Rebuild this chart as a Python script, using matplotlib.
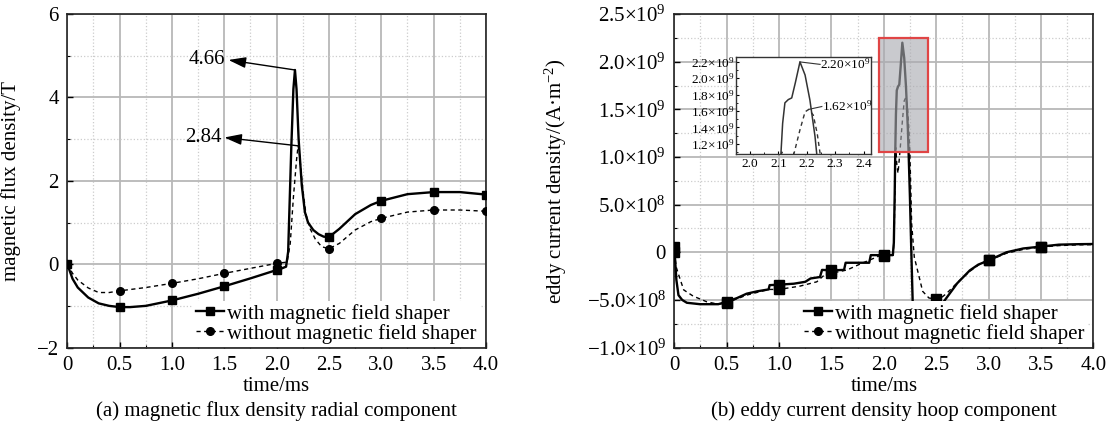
import numpy as np
import matplotlib
matplotlib.use("Agg")
import matplotlib.pyplot as plt
from matplotlib.lines import Line2D
from matplotlib.patches import Rectangle
from matplotlib.ticker import MultipleLocator, FixedLocator, FixedFormatter
from matplotlib.colors import to_rgba

plt.rcParams.update({
    "font.family": ["Liberation Serif", "DejaVu Serif"],
    "font.size": 15,
    "mathtext.fontset": "custom",
    "mathtext.rm": "Liberation Serif",
    "mathtext.it": "Liberation Serif:italic",
    "axes.linewidth": 1.2,
    "axes.edgecolor": "#222222",
})

# ── (a) magnetic flux density, radial component (T) ─────────────────────
t_a_with = [0, 0.05, 0.1, 0.2, 0.3, 0.4, 0.5, 0.6, 0.75, 1.0, 1.25, 1.5, 1.75,
            2.0, 2.05, 2.09, 2.11, 2.14, 2.16, 2.175, 2.19, 2.21, 2.24, 2.27,
            2.3, 2.35, 2.4, 2.45, 2.5, 2.6, 2.75, 2.9, 3.0, 3.25, 3.5, 3.75, 4.0]
b_with = [0, -0.35, -0.56, -0.80, -0.94, -1.00, -1.03, -1.03, -1.00, -0.87,
          -0.71, -0.53, -0.34, -0.14, -0.10, -0.06, 0.3, 2.8, 4.2, 4.66, 4.2,
          3.0, 1.9, 1.25, 1.0, 0.82, 0.72, 0.66, 0.65, 0.85, 1.2, 1.42, 1.52,
          1.68, 1.73, 1.73, 1.67]
t_a_without = [0, 0.05, 0.1, 0.2, 0.3, 0.4, 0.5, 0.75, 1.0, 1.25, 1.5, 1.75,
               2.0, 2.1, 2.13, 2.16, 2.19, 2.205, 2.22, 2.25, 2.28, 2.32, 2.37,
               2.43, 2.5, 2.6, 2.75, 2.9, 3.0, 3.25, 3.5, 3.75, 4.0]
b_without = [0, -0.22, -0.38, -0.57, -0.68, -0.68, -0.64, -0.56, -0.46, -0.35,
             -0.22, -0.10, 0.02, 0.05, 0.5, 1.6, 2.5, 2.84, 2.6, 1.8, 1.2, 0.85,
             0.6, 0.42, 0.37, 0.5, 0.82, 1.02, 1.1, 1.25, 1.3, 1.3, 1.27]
marks_a = [0, 0.5, 1.0, 1.5, 2.0, 2.5, 3.0, 3.5, 4.0]
peak_a = [(2.175, 4.66, "4.66"), (2.205, 2.84, "2.84")]

# ── (b) eddy current density, hoop component (x1e8 A/m^2) ───────────────
t_b_with = [0, 0.02, 0.04, 0.075, 0.12, 0.245, 0.42, 0.5, 0.6, 0.69, 0.79,
            0.9, 0.91, 1.0, 1.14, 1.25, 1.3, 1.39, 1.41, 1.5, 1.62, 1.635,
            1.86, 1.875, 2.0, 2.085, 2.095, 2.103, 2.109, 2.115, 2.123, 2.135,
            2.147, 2.16, 2.176, 2.194, 2.211, 2.229, 2.235, 2.248, 2.262, 2.275,
            2.35, 2.45, 2.5, 2.57, 2.7, 2.82, 2.9, 3.0, 3.17, 3.33, 3.5, 3.67,
            3.86, 4.0]
j_with = [0.6, -2.9, -4.5, -5.0, -5.3, -5.45, -5.45, -5.2, -4.8, -4.35, -4.1,
          -3.9, -3.45, -3.4, -3.3, -3.1, -2.75, -2.6, -1.85, -1.9, -1.85, -1.1,
          -1.1, -0.3, -0.3, -0.3, 1.0, 6.0, 10.8, 14.5, 17.0, 17.4, 17.6, 19.5,
          22.0, 20.4, 17.35, 12.9, 10.8, 6.0, 0.0, -5.3, -6.5, -6.8, -6.6,
          -5.2, -3.25, -1.9, -1.3, -0.85, 0.0, 0.4, 0.6, 0.8, 0.85, 0.87]
t_b_without = [0, 0.02, 0.04, 0.09, 0.18, 0.31, 0.42, 0.5, 0.69, 0.9, 1.0, 1.2,
               1.36, 1.42, 1.5, 1.65, 1.78, 1.9, 1.95, 2.0, 2.09, 2.1, 2.112,
               2.125, 2.135, 2.155, 2.176, 2.194, 2.207, 2.223, 2.237, 2.247,
               2.256, 2.265, 2.29, 2.32, 2.37, 2.43, 2.5, 2.55, 2.6, 2.7, 2.82,
               2.92, 3.0, 3.17, 3.33, 3.5, 3.67, 3.86, 4.0]
j_without = [0.0, -1.6, -2.3, -3.95, -4.6, -5.2, -5.45, -5.3, -4.5, -3.9, -3.9,
             -3.55, -3.1, -2.5, -2.2, -1.85, -1.2, -0.65, -0.4, -0.4, -0.3, 3.0,
             11.0, 9.0, 8.3, 10.8, 13.7, 15.9, 16.2, 15.5, 13.2, 10.8, 7.0, 3.0,
             -0.5, -1.85, -4.1, -4.8, -4.9, -4.75, -4.3, -3.2, -2.0, -1.2, -0.85,
             -0.1, 0.3, 0.55, 0.7, 0.78, 0.8]
marks_b = [0, 0.5, 1.0, 1.5, 2.0, 2.5, 3.0, 3.5]
peak_b = [(2.176, 2.20e9, "2.20×10$^{9}$"), (2.207, 1.62e9, "1.62×10$^{9}$")]

yticks_b = [-1.0e9, -5.0e8, 0, 5.0e8, 1.0e9, 1.5e9, 2.0e9, 2.5e9]
ylabels_b = ["−1.0×10$^{9}$", "−5.0×10$^{8}$", "0", "5.0×10$^{8}$",
             "1.0×10$^{9}$", "1.5×10$^{9}$", "2.0×10$^{9}$", "2.5×10$^{9}$"]
xticks = [0, 0.5, 1.0, 1.5, 2.0, 2.5, 3.0, 3.5, 4.0]
xlabels = ["0", "0.5", "1.0", "1.5", "2.0", "2.5", "3.0", "3.5", "4.0"]
inset_yticks = [1.2e9, 1.4e9, 1.6e9, 1.8e9, 2.0e9, 2.2e9]
inset_ylabels = ["1.2×10$^{9}$", "1.4×10$^{9}$", "1.6×10$^{9}$",
                 "1.8×10$^{9}$", "2.0×10$^{9}$", "2.2×10$^{9}$"]
inset_xticks = [2.0, 2.1, 2.2, 2.3, 2.4]

labels = ["with magnetic field shaper", "without magnetic field shaper"]

GRID = "#b8b8b8"
MINOR = "#cccccc"


def mark_idx(t, marks):
    t = np.round(np.asarray(t, float), 4)
    return list(np.flatnonzero(np.isin(t, marks)))


def style_axes(ax):
    ax.set_xlim(0, 4)
    ax.xaxis.set_major_locator(FixedLocator(xticks))
    ax.xaxis.set_major_formatter(FixedFormatter(xlabels))
    ax.xaxis.set_minor_locator(MultipleLocator(0.25))
    ax.grid(which="major", color=GRID, lw=1.3, ls="-")
    ax.grid(which="minor", color=MINOR, lw=0.9, ls=":")
    ax.set_axisbelow(True)
    ax.tick_params(which="both", direction="in", top=False, right=False)
    ax.tick_params(which="major", length=4, width=1.0, pad=6, labelsize=15)
    ax.tick_params(which="minor", length=2, width=0.8)
    ax.set_xlabel("time/ms", fontsize=15)
    ax.xaxis.set_label_coords(0.5, -0.088)


fig = plt.figure(figsize=(11.07, 4.28), dpi=100)

# ════════════ panel (a) ════════════
ax1 = fig.add_axes([0.0608, 0.188, 0.3782, 0.779])
l1, = ax1.plot(t_a_with, b_with, "-", color="black", lw=1.7, marker="s", ms=5.5,
               markevery=mark_idx(t_a_with, marks_a), zorder=3)
l2, = ax1.plot(t_a_without, b_without, color="black", lw=1.0, ls=(0, (3, 2.5)),
               marker="o", ms=5.5, markevery=mark_idx(t_a_without, marks_a), zorder=3)
ax1.set_ylim(-2, 6)
ax1.yaxis.set_major_locator(MultipleLocator(2))
ax1.yaxis.set_minor_locator(MultipleLocator(1))
style_axes(ax1)
ax1.set_ylabel("magnetic flux density/T", fontsize=15)
ax1.yaxis.set_label_coords(-0.111, 0.5)

text_pos_a = [(1.51, 4.90), (1.47, 3.04)]
for (px, py, s), (tx, ty) in zip(peak_a, text_pos_a):
    ax1.annotate("", xy=(tx + 0.03, ty), xytext=(px, py),
                 arrowprops=dict(arrowstyle="-|>,head_length=0.7,head_width=0.22",
                                 color="black", lw=1.0, shrinkA=0, shrinkB=0))
    ax1.text(tx, ty, s, ha="right", va="center", fontsize=15)

leg1 = ax1.legend([l1, l2], labels, loc="lower right", bbox_to_anchor=(0.995, -0.01),
                  frameon=True, facecolor="white", edgecolor="none", framealpha=1,
                  fontsize=15, handlelength=1.35, handletextpad=0.15,
                  labelspacing=0.0, borderpad=0.15, borderaxespad=0.2)
leg1.set_zorder(5)
ax1.text(0.5, -0.19, "(a) magnetic flux density radial component",
         transform=ax1.transAxes, ha="center", va="center", fontsize=15)

# ════════════ panel (b) ════════════
jw = np.array(j_with) * 1e8
jwo = np.array(j_without) * 1e8
ax2 = fig.add_axes([0.6091, 0.188, 0.3787, 0.779])
ax2.plot(t_b_with, jw, "-", color="black", lw=1.7, marker="s", ms=6.5,
         markevery=mark_idx(t_b_with, marks_b), zorder=3)
ax2.plot(t_b_without, jwo, color="black", lw=1.0, ls=(0, (3, 2.5)),
         marker="s", ms=6.5, markevery=mark_idx(t_b_without, marks_b), zorder=3)
ax2.set_ylim(-1.0e9, 2.5e9)
ax2.yaxis.set_major_locator(FixedLocator(yticks_b))
ax2.yaxis.set_major_formatter(FixedFormatter(ylabels_b))
ax2.yaxis.set_minor_locator(MultipleLocator(2.5e8))
style_axes(ax2)
ax2.set_ylabel("eddy current density/(A·m$^{-2}$)", fontsize=15)
ax2.yaxis.set_label_coords(-0.252, 0.5)

h1 = Line2D([], [], color="black", lw=1.7, marker="s", ms=5.5)
h2 = Line2D([], [], color="black", lw=1.0, ls=(0, (3, 2.5)), marker="o", ms=5.5)
leg2 = ax2.legend([h1, h2], labels, loc="lower right", bbox_to_anchor=(0.997, -0.01),
                  frameon=True, facecolor="white", edgecolor="none", framealpha=1,
                  fontsize=15, handlelength=1.35, handletextpad=0.15,
                  labelspacing=0.0, borderpad=0.15, borderaxespad=0.2)
leg2.set_zorder(5)
ax2.text(0.5, -0.19, "(b) eddy current density hoop component",
         transform=ax2.transAxes, ha="center", va="center", fontsize=15)

# zoom box + inset
ix0, ix1 = 1.9505, 2.425
iy0, iy1 = 1.05e9, 2.25e9
ax2.add_patch(Rectangle((ix0, iy0), ix1 - ix0, iy1 - iy0,
                        facecolor=to_rgba("#a9aab0", 0.62), edgecolor="#e04545",
                        lw=1.6, zorder=4))

axi = fig.add_axes([0.6648, 0.6402, 0.1217, 0.2266])
axi.set_facecolor("white")
axi.plot(t_b_with, jw, "-", color="#333333", lw=1.1)
axi.plot(t_b_without, jwo, color="#333333", lw=1.0, ls=(0, (3, 2.5)))
axi.set_xlim(ix0, ix1)
axi.set_ylim(1.075e9, 2.26e9)
axi.xaxis.set_major_locator(FixedLocator(inset_xticks))
axi.xaxis.set_minor_locator(MultipleLocator(0.05))
axi.yaxis.set_major_locator(FixedLocator(inset_yticks))
axi.yaxis.set_major_formatter(FixedFormatter(inset_ylabels))
axi.yaxis.set_minor_locator(MultipleLocator(1e8))
axi.tick_params(which="both", direction="in", top=False, right=False)
axi.tick_params(which="major", length=2.5, width=0.8, labelsize=9.5, pad=3)
axi.tick_params(axis="y", which="major", pad=1)
axi.tick_params(which="minor", length=1.5, width=0.6)
for sp in axi.spines.values():
    sp.set_linewidth(1.0)
    sp.set_color("#333333")

text_pos_b = [(2.247, 2.17e9), (2.253, 1.655e9)]
for (px, py, s), (tx, ty) in zip(peak_b, text_pos_b):
    axi.plot([px, tx], [py, ty], color="#333333", lw=0.8)
    axi.text(tx, ty, s, ha="left", va="center", fontsize=9.5, clip_on=False)

fig.savefig("out.png", dpi=100)
